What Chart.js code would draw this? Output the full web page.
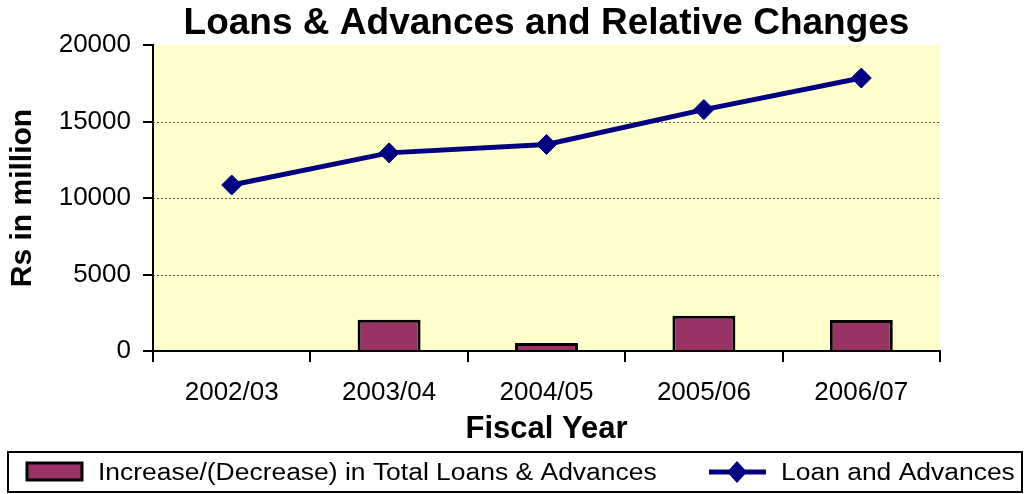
<!DOCTYPE html>
<html>
<head>
<meta charset="utf-8">
<title>Loans &amp; Advances and Relative Changes</title>
<script src="https://cdn.jsdelivr.net/npm/chart.js@4/dist/chart.umd.min.js"></script>
<style>
  html, body { margin: 0; padding: 0; background: #ffffff; }
  #wrap { width: 1029px; height: 494px; }
</style>
</head>
<body>
<div id="wrap"><canvas id="chart" width="1029" height="494"></canvas></div>
<script>
// Fiscal years on the category axis
const fiscalYears = ['2002/03', '2003/04', '2004/05', '2005/06', '2006/07'];
// Total loans & advances, Rs in million
const loanAdvances = [10850, 12950, 13500, 15780, 17840];
// Year-on-year increase/(decrease), Rs in million (no figure for the first year)
const loanChange = [null, 2050, 520, 2300, 2030];
// Value axis ticks
const yTicks = [0, 5000, 10000, 15000, 20000];

const FONT = '"Liberation Sans", Arial, sans-serif';
const BAR_COLOR = '#993366';
const LINE_COLOR = '#000080';

// Pale plot area with dotted horizontal guides
const plotBackdrop = {
  id: 'plotBackdrop',
  beforeDraw(chart) {
    const { ctx, chartArea: a } = chart;
    ctx.save();
    ctx.fillStyle = '#FFFFCC';
    ctx.fillRect(a.left, a.top, a.right - a.left, a.bottom - a.top);
    ctx.restore();
  },
  beforeDatasetsDraw(chart) {
    const { ctx, chartArea: a } = chart;
    const y = chart.scales.y;
    ctx.save();
    ctx.strokeStyle = '#555555';
    ctx.lineWidth = 1;
    ctx.setLineDash([2, 2]);
    y.ticks.forEach(t => {
      if (t.value <= y.min || t.value >= y.max) return;
      const py = Math.round(y.getPixelForValue(t.value)) + 0.5;
      ctx.beginPath();
      ctx.moveTo(a.left, py);
      ctx.lineTo(a.right, py);
      ctx.stroke();
    });
    ctx.restore();
  }
};

// Boxed legend along the bottom edge
const boxedLegend = {
  id: 'boxedLegend',
  afterDraw(chart) {
    const { ctx } = chart;
    const bars = chart.data.datasets[0];
    const line = chart.data.datasets[1];
    ctx.save();
    ctx.strokeStyle = '#000';
    ctx.lineWidth = 2;
    ctx.strokeRect(8, 452, 1014, 40);

    // bar swatch
    ctx.fillStyle = bars.backgroundColor;
    ctx.lineWidth = 3;
    ctx.fillRect(27, 463, 55, 17);
    ctx.strokeRect(27, 463, 55, 17);

    // line swatch with diamond marker
    ctx.strokeStyle = line.borderColor;
    ctx.lineWidth = 5;
    ctx.beginPath();
    ctx.moveTo(709, 472);
    ctx.lineTo(766, 472);
    ctx.stroke();
    ctx.fillStyle = line.pointBackgroundColor;
    ctx.beginPath();
    ctx.moveTo(737, 461);
    ctx.lineTo(747, 472);
    ctx.lineTo(737, 483);
    ctx.lineTo(727, 472);
    ctx.closePath();
    ctx.fill();

    // labels (slightly widened type)
    ctx.fillStyle = '#000';
    ctx.font = '23px ' + FONT;
    ctx.textBaseline = 'alphabetic';
    ctx.textAlign = 'left';
    const sx = 1.15;
    ctx.save();
    ctx.translate(98, 480);
    ctx.scale(sx, 1);
    ctx.fillText(bars.label, 0, 0);
    ctx.restore();
    ctx.save();
    ctx.translate(781, 480);
    ctx.scale(sx, 1);
    ctx.fillText(line.label, 0, 0);
    ctx.restore();
    ctx.restore();
  }
};

new Chart(document.getElementById('chart'), {
  data: {
    labels: fiscalYears,
    datasets: [
      {
        type: 'bar',
        label: 'Increase/(Decrease) in Total Loans & Advances',
        data: loanChange,
        backgroundColor: BAR_COLOR,
        borderColor: '#000000',
        borderWidth: 3,
        categoryPercentage: 0.8,
        barPercentage: 0.5,
        order: 2
      },
      {
        type: 'line',
        label: 'Loan and Advances',
        data: loanAdvances,
        borderColor: LINE_COLOR,
        borderWidth: 5,
        pointStyle: 'rectRot',
        pointRadius: 10,
        pointHoverRadius: 10,
        pointBackgroundColor: LINE_COLOR,
        pointBorderColor: LINE_COLOR,
        pointBorderWidth: 1,
        tension: 0,
        order: 1
      }
    ]
  },
  options: {
    responsive: false,
    animation: false,
    layout: { padding: { top: 0, right: 89, bottom: 43, left: 0 } },
    plugins: {
      legend: { display: false },
      tooltip: { enabled: false },
      title: {
        display: true,
        fullSize: false,
        text: 'Loans & Advances and Relative Changes',
        color: '#000',
        font: { family: FONT, size: 37, weight: 'bold', lineHeight: 1 },
        padding: { top: 5, bottom: 3 }
      }
    },
    scales: {
      x: {
        offset: true,
        grid: {
          offset: true,
          drawOnChartArea: false,
          drawTicks: true,
          tickLength: 11,
          color: '#000',
          lineWidth: 2
        },
        border: { display: true, color: '#000', width: 2 },
        ticks: {
          color: '#000',
          font: { family: FONT, size: 26 },
          padding: 15,
          maxRotation: 0,
          autoSkip: false
        },
        title: {
          display: true,
          text: 'Fiscal Year',
          color: '#000',
          font: { family: FONT, size: 31, weight: 'bold', lineHeight: 1.2 },
          padding: { top: 0, bottom: 3 }
        },
        afterFit(scale) { scale.height = 100; }
      },
      y: {
        min: 0,
        max: 20000,
        afterBuildTicks(scale) { scale.ticks = yTicks.map(v => ({ value: v })); },
        grid: {
          drawOnChartArea: false,
          drawTicks: true,
          tickLength: 10,
          color: '#000',
          lineWidth: 2
        },
        border: { display: true, color: '#000', width: 2 },
        ticks: {
          color: '#000',
          font: { family: FONT, size: 26 },
          padding: 12,
          callback: v => String(v)
        },
        title: {
          display: true,
          text: 'Rs in million',
          color: '#000',
          font: { family: FONT, size: 30, weight: 'bold', lineHeight: 1.2 },
          padding: { top: 5, bottom: 0 }
        },
        afterFit(scale) { scale.width = 153; }
      }
    }
  },
  plugins: [plotBackdrop, boxedLegend]
});
</script>
</body>
</html>
